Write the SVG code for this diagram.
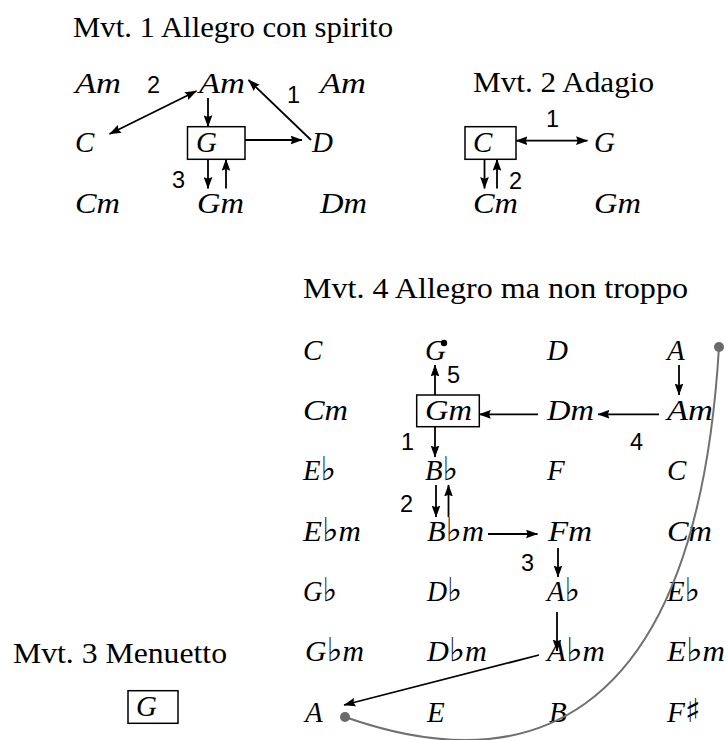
<svg xmlns="http://www.w3.org/2000/svg" width="726" height="740" viewBox="0 0 726 740">
<style>
.t{font-family:"Liberation Serif","DejaVu Serif",serif;font-size:30px;fill:#000}
.c{font-family:"Liberation Serif","DejaVu Serif",serif;font-style:italic;font-size:29px;fill:#000}
.f{font-family:"DejaVu Sans",sans-serif;font-style:normal;font-size:33px}
.n{font-family:"Liberation Sans",Arial,sans-serif;font-size:23.5px;fill:#000}
.box{fill:none;stroke:#000;stroke-width:1.5}
.a{stroke:#000;stroke-width:1.8;fill:none}
.s{marker-end:url(#ah)}
.d{marker-start:url(#ah);marker-end:url(#ah)}
.g{stroke:#707070;stroke-width:2;fill:none}
.dot{fill:#6a6a6a}
</style>
<defs>
<marker id="ah" markerUnits="userSpaceOnUse" markerWidth="12" markerHeight="9" viewBox="0 0 11 8" refX="10.5" refY="4" orient="auto-start-reverse">
<path d="M0,0 L11,4 L0,8 L1.5,4 z" fill="#000"/>
</marker>
</defs>

<!-- Titles -->
<g id="title1"><text class="t" x="73" y="37" textLength="320" lengthAdjust="spacingAndGlyphs">Mvt. 1 Allegro con spirito</text></g>
<g id="title2"><text class="t" x="473" y="92" textLength="181" lengthAdjust="spacingAndGlyphs">Mvt. 2 Adagio</text></g>
<g id="title3"><text class="t" x="13" y="663" textLength="214" lengthAdjust="spacingAndGlyphs">Mvt. 3 Menuetto</text></g>
<g id="title4"><text class="t" x="303" y="298" textLength="385" lengthAdjust="spacingAndGlyphs">Mvt. 4 Allegro ma non troppo</text></g>

<!-- Mvt 1 nodes -->
<g id="m1-Am-a"><text class="c" x="75" y="93" textLength="46" lengthAdjust="spacingAndGlyphs">Am</text></g>
<g id="m1-Am-b"><text class="c" x="199" y="93" textLength="46" lengthAdjust="spacingAndGlyphs">Am</text></g>
<g id="m1-Am-c"><text class="c" x="320" y="93" textLength="46" lengthAdjust="spacingAndGlyphs">Am</text></g>
<g id="m1-C"><text class="c" x="75" y="152">C</text></g>
<g id="m1-G"><rect class="box" x="187.5" y="126.7" width="57.5" height="32.6"/><text class="c" x="196" y="152">G</text></g>
<g id="m1-D"><text class="c" x="312" y="152">D</text></g>
<g id="m1-Cm"><text class="c" x="75" y="213" textLength="45" lengthAdjust="spacingAndGlyphs">Cm</text></g>
<g id="m1-Gm"><text class="c" x="197" y="213" textLength="47" lengthAdjust="spacingAndGlyphs">Gm</text></g>
<g id="m1-Dm"><text class="c" x="320" y="213" textLength="47" lengthAdjust="spacingAndGlyphs">Dm</text></g>

<!-- Mvt 2 nodes -->
<g id="m2-C"><rect class="box" x="465" y="126.7" width="51" height="32.6"/><text class="c" x="473" y="152">C</text></g>
<g id="m2-G"><text class="c" x="594" y="152">G</text></g>
<g id="m2-Cm"><text class="c" x="473" y="213" textLength="45" lengthAdjust="spacingAndGlyphs">Cm</text></g>
<g id="m2-Gm"><text class="c" x="594" y="213" textLength="47" lengthAdjust="spacingAndGlyphs">Gm</text></g>

<!-- Mvt 3 node -->
<g id="m3-G"><rect class="box" x="128" y="690.7" width="50" height="32.6"/><text class="c" x="136" y="716">G</text></g>

<!-- Mvt 4 nodes -->
<g id="m4-C"><text class="c" x="303" y="359.5">C</text></g>
<g id="m4-G"><text class="c" x="425" y="359.5">G</text><circle cx="444" cy="343" r="3.2" fill="#000"/></g>
<g id="m4-D"><text class="c" x="547" y="359.5">D</text></g>
<g id="m4-A"><text class="c" x="667" y="359.5">A</text></g>

<g id="m4-Cm"><text class="c" x="303" y="419.5" textLength="45" lengthAdjust="spacingAndGlyphs">Cm</text></g>
<g id="m4-Gm"><rect class="box" x="416.7" y="395" width="62.6" height="31.7"/><text class="c" x="425" y="419.5" textLength="47" lengthAdjust="spacingAndGlyphs">Gm</text></g>
<g id="m4-Dm"><text class="c" x="547" y="419.5" textLength="47" lengthAdjust="spacingAndGlyphs">Dm</text></g>
<g id="m4-Am"><text class="c" x="667" y="419.5" textLength="46" lengthAdjust="spacingAndGlyphs">Am</text></g>

<g id="m4-Eb"><text class="c" x="303" y="479.5" textLength="33" lengthAdjust="spacingAndGlyphs">E<tspan class="f">♭</tspan></text></g>
<g id="m4-Bb"><text class="c" x="425" y="479.5" textLength="33" lengthAdjust="spacingAndGlyphs">B<tspan class="f">♭</tspan></text></g>
<g id="m4-F"><text class="c" x="547" y="479.5">F</text></g>
<g id="m4-C2"><text class="c" x="667" y="479.5">C</text></g>

<g id="m4-Ebm"><text class="c" x="303" y="540.5" textLength="58" lengthAdjust="spacingAndGlyphs">E<tspan class="f">♭</tspan>m</text></g>
<g id="m4-Bbm"><text class="c" x="427" y="540.5" textLength="57" lengthAdjust="spacingAndGlyphs">B<tspan class="f">♭</tspan>m</text></g>
<g id="m4-Fm"><text class="c" x="548" y="540.5" textLength="44" lengthAdjust="spacingAndGlyphs">Fm</text></g>
<g id="m4-Cm2"><text class="c" x="667" y="540.5" textLength="45" lengthAdjust="spacingAndGlyphs">Cm</text></g>

<g id="m4-Gb"><text class="c" x="303" y="600.5" textLength="34" lengthAdjust="spacingAndGlyphs">G<tspan class="f">♭</tspan></text></g>
<g id="m4-Db"><text class="c" x="427" y="600.5" textLength="35" lengthAdjust="spacingAndGlyphs">D<tspan class="f">♭</tspan></text></g>
<g id="m4-Ab"><text class="c" x="547" y="600.5" textLength="33" lengthAdjust="spacingAndGlyphs">A<tspan class="f">♭</tspan></text></g>
<g id="m4-Eb2"><text class="c" x="667" y="600.5" textLength="33" lengthAdjust="spacingAndGlyphs">E<tspan class="f">♭</tspan></text></g>

<g id="m4-Gbm"><text class="c" x="305" y="661" textLength="59" lengthAdjust="spacingAndGlyphs">G<tspan class="f">♭</tspan>m</text></g>
<g id="m4-Dbm"><text class="c" x="427" y="661" textLength="60" lengthAdjust="spacingAndGlyphs">D<tspan class="f">♭</tspan>m</text></g>
<g id="m4-Abm"><text class="c" x="547" y="661" textLength="58" lengthAdjust="spacingAndGlyphs">A<tspan class="f">♭</tspan>m</text></g>
<g id="m4-Ebm2"><text class="c" x="667" y="661" textLength="58" lengthAdjust="spacingAndGlyphs">E<tspan class="f">♭</tspan>m</text></g>

<g id="m4-A2"><text class="c" x="305" y="721.5">A</text></g>
<g id="m4-E"><text class="c" x="427" y="721.5">E</text></g>
<g id="m4-B"><text class="c" x="549" y="721.5">B</text></g>
<g id="m4-Fs"><text class="c" x="667" y="721.5" textLength="34" lengthAdjust="spacingAndGlyphs">F<tspan class="f">♯</tspan></text></g>

<!-- Connectors -->
<g id="connectors">
<!-- Mvt 1 -->
<line class="a s" x1="208" y1="98" x2="208" y2="126.7"/>
<line class="a d" x1="109.5" y1="134" x2="196.5" y2="91"/>
<line class="a s" x1="311" y1="140" x2="248.5" y2="80"/>
<line class="a s" x1="245" y1="140" x2="302" y2="140"/>
<line class="a s" x1="208" y1="159.3" x2="208" y2="188.5"/>
<line class="a s" x1="226" y1="188.5" x2="226" y2="159.3"/>
<!-- Mvt 2 -->
<line class="a d" x1="516" y1="140.7" x2="587.5" y2="140.7"/>
<line class="a s" x1="484.5" y1="159.3" x2="484.5" y2="188.5"/>
<line class="a s" x1="497" y1="188.5" x2="497" y2="159.3"/>
<!-- Mvt 4 -->
<line class="a s" x1="435" y1="395" x2="435" y2="365"/>
<line class="a s" x1="435" y1="426.7" x2="435" y2="457"/>
<line class="a s" x1="538" y1="414.3" x2="479.3" y2="414.3"/>
<line class="a s" x1="659" y1="414.3" x2="598" y2="414.3"/>
<line class="a s" x1="679" y1="365" x2="679" y2="395"/>
<line class="a s" x1="436" y1="485" x2="436" y2="517"/>
<line class="a s" x1="448.5" y1="517" x2="448.5" y2="485"/>
<line class="a s" x1="488" y1="534" x2="537.5" y2="534"/>
<line class="a s" x1="558" y1="548" x2="558" y2="577"/>
<line class="a s" x1="557" y1="612" x2="557" y2="651"/>
<line class="a s" x1="539" y1="655" x2="344" y2="705"/>
<!-- grey curve -->
<path class="g" d="M345,717 C510,775 695,747 719,347"/>
<circle class="dot" cx="345" cy="717" r="5"/>
<circle class="dot" cx="719" cy="347" r="5"/>
</g>

<!-- Edge labels -->
<g id="labels">
<text class="n" x="147" y="93">2</text>
<text class="n" x="287" y="103">1</text>
<text class="n" x="172" y="188">3</text>
<text class="n" x="546" y="127">1</text>
<text class="n" x="509" y="189">2</text>
<text class="n" x="447" y="383">5</text>
<text class="n" x="401" y="450">1</text>
<text class="n" x="630" y="450">4</text>
<text class="n" x="400" y="512">2</text>
<text class="n" x="521" y="571">3</text>
</g>
</svg>
